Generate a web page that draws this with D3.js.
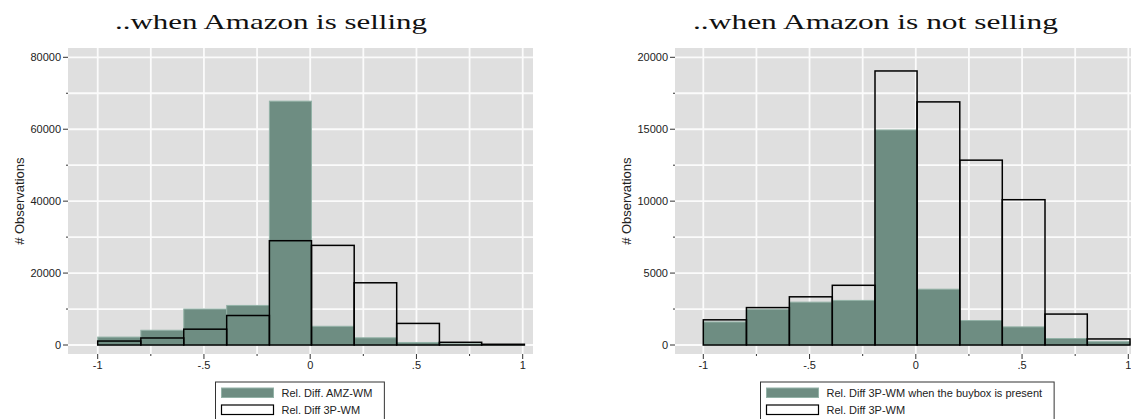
<!DOCTYPE html>
<html>
<head>
<meta charset="utf-8">
<script src="https://cdn.jsdelivr.net/npm/d3@7"></script>
<style>
  html, body { margin: 0; padding: 0; background: #ffffff; }
  svg { display: block; }
</style>
</head>
<body>
<svg id="chart" width="1131" height="419"></svg>
<script>
// ---------------- data ----------------
const binEdges = [-1, -0.797, -0.595, -0.393, -0.192, 0.006, 0.207, 0.407, 0.608, 0.807, 1.008];
const leftAmzWm = [2200, 4100, 10000, 11000, 67800, 5200, 2000, 700, 300, 100];
const left3pWm  = [1100, 1950, 4400, 8200, 29000, 27700, 17300, 6000, 750, 200];
const rightBuybox = [1600, 2480, 2980, 3100, 14950, 3880, 1700, 1260, 450, 230];
const right3pWm   = [1750, 2600, 3350, 4150, 19050, 16900, 12850, 10100, 2150, 420];

const xTickValues = [-1, -0.5, 0, 0.5, 1];
const xTickLabels = ["-1", "-.5", "0", ".5", "1"];
const xMinorTicks = [-0.75, -0.25, 0.25, 0.75];
const leftYTicks  = [0, 20000, 40000, 60000, 80000];
const leftYMinor  = [10000, 30000, 50000, 70000];
const rightYTicks = [0, 5000, 10000, 15000, 20000];
const rightYMinor = [2500, 7500, 12500, 17500];

const titles = ["..when Amazon is selling", "..when Amazon is not selling"];
const legendLeft  = ["Rel. Diff. AMZ-WM", "Rel. Diff 3P-WM"];
const legendRight = ["Rel. Diff 3P-WM when the buybox is present", "Rel. Diff 3P-WM"];
const yTitle = "# Observations";

// ---------------- styles ----------------
const GREEN = "#6e8d82";
const GREEN_EDGE = "#93b2a7";
const BG = "#dfdfdf";

const svg = d3.select("#chart");

const panels = [
  { ox: 0,   gx0: 68,  gx1: 533,  xr: [97.7, 522.7], yMax: 80000,
    yTicks: leftYTicks, yMinor: leftYMinor, green: leftAmzWm, outline: left3pWm,
    title: titles[0], titleX: 115, titleW: 312, legend: legendLeft, ytx: 20 },
  { ox: 607, gx0: 675, gx1: 1140, xr: [703.3, 1128.3], yMax: 20000,
    yTicks: rightYTicks, yMinor: rightYMinor, green: rightBuybox, outline: right3pWm,
    title: titles[1], titleX: 693, titleW: 365, legend: legendRight, ytx: 627 }
];

const gy0 = 48, gy1 = 354;
const yr = [345, 57.3];

panels.forEach(p => {
  const g = svg.append("g");
  const x = d3.scaleLinear().domain([-1, 1]).range(p.xr);
  const y = d3.scaleLinear().domain([0, p.yMax]).range(yr);

  // background
  g.append("rect").attr("x", p.gx0).attr("y", gy0)
    .attr("width", p.gx1 - p.gx0).attr("height", gy1 - gy0).attr("fill", BG);

  // gridlines
  const yGrid = p.yTicks.concat(p.yMinor);
  g.selectAll(".hg").data(yGrid).join("line")
    .attr("x1", p.gx0).attr("x2", p.gx1)
    .attr("y1", d => y(d)).attr("y2", d => y(d))
    .attr("stroke", "#fbfbfb").attr("stroke-width", 1.8);
  const xGrid = xTickValues.concat(xMinorTicks);
  g.selectAll(".vg").data(xGrid).join("line")
    .attr("y1", gy0).attr("y2", gy1)
    .attr("x1", d => x(d)).attr("x2", d => x(d))
    .attr("stroke", "#fbfbfb").attr("stroke-width", 1.8);

  // bars
  const bins = p.green.map((v, i) => ({ x0: binEdges[i], x1: binEdges[i + 1], v }));
  g.selectAll(".gb").data(bins).join("rect")
    .attr("x", d => x(d.x0)).attr("width", d => x(d.x1) - x(d.x0))
    .attr("y", d => y(d.v)).attr("height", d => y(0) - y(d.v))
    .attr("fill", GREEN).attr("stroke", GREEN_EDGE).attr("stroke-width", 1);
  const obins = p.outline.map((v, i) => ({ x0: binEdges[i], x1: binEdges[i + 1], v }));
  g.selectAll(".ob").data(obins).join("rect")
    .attr("x", d => x(d.x0)).attr("width", d => x(d.x1) - x(d.x0))
    .attr("y", d => y(d.v)).attr("height", d => y(0) - y(d.v))
    .attr("fill", "none").attr("stroke", "#000").attr("stroke-width", 1.5);

  // y axis ticks
  g.selectAll(".yt").data(p.yTicks).join("line")
    .attr("x1", p.gx0 - 5).attr("x2", p.gx0)
    .attr("y1", d => y(d)).attr("y2", d => y(d))
    .attr("stroke", "#333").attr("stroke-width", 1);
  g.selectAll(".ym").data(p.yMinor).join("line")
    .attr("x1", p.gx0 - 2).attr("x2", p.gx0)
    .attr("y1", d => y(d)).attr("y2", d => y(d))
    .attr("stroke", "#333").attr("stroke-width", 1);
  g.selectAll(".yl").data(p.yTicks).join("text")
    .attr("x", p.gx0 - 7).attr("y", d => y(d) + 4)
    .attr("text-anchor", "end")
    .attr("font-family", "Liberation Sans, Arial, sans-serif").attr("font-size", 11)
    .attr("fill", "#222").text(d => d);

  // x axis ticks
  g.selectAll(".xt").data(xTickValues).join("line")
    .attr("x1", d => x(d)).attr("x2", d => x(d))
    .attr("y1", gy1).attr("y2", gy1 + 5)
    .attr("stroke", "#333").attr("stroke-width", 1);
  g.selectAll(".xm").data(xMinorTicks).join("line")
    .attr("x1", d => x(d)).attr("x2", d => x(d))
    .attr("y1", gy1).attr("y2", gy1 + 2)
    .attr("stroke", "#333").attr("stroke-width", 1);
  g.selectAll(".xl").data(xTickValues).join("text")
    .attr("x", d => x(d)).attr("y", 369)
    .attr("text-anchor", "middle")
    .attr("font-family", "Liberation Sans, Arial, sans-serif").attr("font-size", 11)
    .attr("fill", "#222").text((d, i) => xTickLabels[i]);

  // y title
  g.append("text")
    .attr("transform", `translate(${p.ytx + 4},${(yr[0] + yr[1]) / 2}) rotate(-90)`)
    .attr("text-anchor", "middle")
    .attr("font-family", "Liberation Sans, Arial, sans-serif").attr("font-size", 13)
    .attr("fill", "#222").text(yTitle);

  // title
  g.append("text")
    .attr("x", p.titleX).attr("y", 28.5)
    .attr("font-family", "Liberation Serif, Times New Roman, serif").attr("font-size", 21)
    .attr("textLength", p.titleW).attr("lengthAdjust", "spacingAndGlyphs")
    .attr("fill", "#111").text(p.title);

  // legend
  const lg = g.append("g");
  const box = lg.append("rect").attr("y", 382).attr("height", 60)
    .attr("fill", "#fff").attr("stroke", "#333").attr("stroke-width", 1);
  const texts = lg.selectAll(".lt").data(p.legend).join("text")
    .attr("y", (d, i) => 397 + i * 17)
    .attr("font-family", "Liberation Sans, Arial, sans-serif").attr("font-size", 11)
    .attr("fill", "#222").text(d => d);
  let maxW = 0;
  texts.each(function () { maxW = Math.max(maxW, this.getComputedTextLength()); });
  const boxW = 6 + 52 + 8 + maxW + 12;
  const center = (p.gx0 + Math.min(p.gx1, 1140)) / 2 - (p.ox ? 1 : 1);
  const bx = Math.round(center - boxW / 2) + 0.5;
  box.attr("x", bx).attr("width", boxW);
  lg.append("rect").attr("x", bx + 6).attr("y", 388).attr("width", 52).attr("height", 9.5)
    .attr("fill", GREEN).attr("stroke", GREEN_EDGE).attr("stroke-width", 1);
  lg.append("rect").attr("x", bx + 6).attr("y", 405).attr("width", 52).attr("height", 9.5)
    .attr("fill", "#fff").attr("stroke", "#000").attr("stroke-width", 1.2);
  texts.attr("x", bx + 66);
});
</script>
</body>
</html>
